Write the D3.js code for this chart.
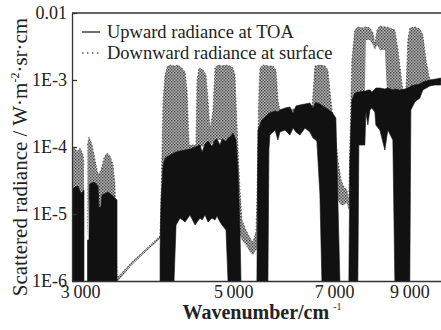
<!DOCTYPE html>
<html>
<head>
<meta charset="utf-8">
<script src="https://cdn.jsdelivr.net/npm/d3@7/dist/d3.min.js"></script>
<style>
  body { margin: 0; background: #fff; }
  svg { display: block; }
  text { font-family: "Liberation Serif", "Times New Roman", serif; fill: #222; }
</style>
</head>
<body>
<svg id="chart" width="441" height="330"></svg>
<script>
// Axis ticks
const xTicks = [3000, 5000, 7000, 9000];
const yTicks = [1e-6, 1e-5, 1e-4, 1e-3, 1e-2];
const yTickLabels = ["1E-6", "1E-5", "1E-4", "1E-3", "0.01"];
const seriesNames = ["Upward radiance at TOA", "Downward radiance at surface"];

// Upward scattered radiance at TOA: band envelopes (max / min of the dense spectrum), null = no signal
const toaNu = [
  2920, 2949, 2979, 3010, 3039, 3050,
  3075, 3090, 3095, 3142, 3185, 3195, 3217, 3227, 3293, 3348, 3393, 3400,
  3917, 3930, 3957, 3983, 4050, 4104, 4132, 4187, 4258, 4329, 4402, 4476, 4506, 4551, 4597, 4658,
  4705, 4736, 4784, 4816, 4881, 4914, 4946, 4996, 5046, 5080, 5114, 5131, 5140,
  5411, 5430, 5502, 5578, 5614, 5632, 5651, 5748, 5804, 5843, 5943, 6041, 6103, 6165, 6245, 6353,
  6457, 6525, 6588, 6610, 6676, 6721, 6811, 6949, 7042, 7089, 7137, 7150,
  7354, 7378, 7428, 7502, 7578, 7603, 7757, 7783, 7835, 7887, 7940, 8020, 8047, 8155, 8292, 8375,
  8516, 8573, 8717, 8863, 9012, 9043, 9164, 9318, 9412, 9634, 9797, 9994
];
const toaMax = [
  2.28e-5, 2.53e-5, 2.62e-5, 2.0e-5, 2.28e-5, null,
  4.09e-6, 4.09e-6, 2.8e-5, 3.0e-5, 2.62e-5, 1.27e-5, 1.27e-5, 1.92e-5, 2.13e-5, 1.86e-5, 1.62e-5, null,
  2.9e-6, 1.62e-5, 5.39e-5, 6.85e-5, 7.6e-5, 8.14e-5, 8.42e-5, 8.7e-5, 9.0e-5, 9.33e-5, 1.0e-4, 1.07e-4, 8.42e-5, 1.11e-4, 1.23e-4, 1.03e-4,
  1.27e-4, 1.32e-4, 1.07e-4, 1.32e-4, 1.23e-4, 1.36e-4, 1.41e-4, 1.62e-4, 1.27e-4, 4.54e-5, 5.77e-6, 1e-6, null,
  1e-6, 1.79e-4, 2.53e-4, 2.9e-4, 3.11e-4, 3.22e-4, 3.22e-4, 3.45e-4, 3.33e-4, 3.57e-4, 3.82e-4, 3.95e-4, 3.22e-4, 4.1e-4, 4.24e-4, 4.38e-4,
  4.54e-4, 3.82e-4, 4.69e-4, 4.54e-4, 4.38e-4, 4.2e-4, 3.82e-4, 3.33e-4, 2.71e-4, 1.62e-5, 1e-6, null,
  1e-6, 6.4e-5, 5.03e-4, 6.4e-4, 6.62e-4, 6.62e-4, 6.85e-4, 6.85e-4, 7.09e-4, 7.09e-4, 6.62e-4, 7.34e-4, 7.6e-4, 7.6e-4, 7.34e-4, 7.6e-4,
  7.09e-4, 7.34e-4, 7.09e-4, 7.34e-4, 7.86e-4, 8.14e-4, 8.42e-4, 8.72e-4, 9.33e-4, 1.0e-3, 1.03e-3, 1.07e-3
];
const toaMin = [
  1e-6, 1e-6, 1e-6, 1e-6, 1e-6, null,
  1e-6, 1e-6, 1e-6, 1e-6, 1e-6, 1e-6, 1e-6, 1e-6, 1e-6, 1e-6, 1e-6, null,
  1e-6, 1e-6, 1e-6, 1e-6, 1e-6, 1e-6, 6.85e-6, 8.71e-6, 7.6e-6, 9.66e-6, 6.85e-6, 8.71e-6, 8.13e-6, 9.66e-6, 7.6e-6, 8.71e-6,
  8.13e-6, 9.33e-6, 7.6e-6, 6.85e-6, 5.77e-6, 1e-6, 1e-6, 1e-6, 1e-6, 1e-6, 1e-6, 1e-6, null,
  1e-6, 1e-6, 1e-6, 1e-6, 1e-6, 9.02e-5, 1.51e-4, 1.79e-4, 1.27e-4, 1.67e-4, 1.79e-4, 1.51e-4, 1.92e-4, 1.67e-4, 1.51e-4, 1.92e-4,
  1.67e-4, 1.36e-4, 1.27e-4, 1.2e-4, 2.0e-5, 1e-6, 1e-6, 1e-6, 1e-6, 1e-6, 1e-6, null,
  1e-6, 1e-6, 1e-6, 1e-6, 1e-6, 1.07e-4, 1.07e-4, 3.33e-4, 2.13e-4, 3.57e-4, 3.82e-4, 3.33e-4, 2.13e-4, 1.79e-4, 9.02e-5, 1.79e-4,
  1.27e-4, 1e-6, 1e-6, 1e-6, 1e-6, 3.57e-4, 4.69e-4, 5.39e-4, 7.09e-4, 8.14e-4, 8.42e-4, 8.42e-4
];

// Downward scattered radiance at surface: band envelopes
const sfcNu = [
  2920, 2940, 2969, 2999, 3029, 3039, 3045,
  3075, 3090, 3122, 3153, 3185, 3217, 3249, 3282, 3315, 3348, 3370,
  3393, 3404, 3567, 3751, 3917,
  3930, 3943, 3957, 3983, 4010, 4050, 4104, 4159, 4215, 4258, 4286, 4315, 4416, 4431, 4461, 4520, 4566,
  4597, 4627, 4674, 4705, 4752, 4816, 4881, 4946, 4996, 5029, 5046, 5080, 5114, 5148, 5217, 5287, 5340,
  5394, 5411, 5430, 5448, 5467, 5522, 5614, 5709, 5767, 5804, 5843, 6503, 6546, 6566, 6676, 6791, 6856,
  6902, 6975, 7042, 7089, 7163, 7232, 7305, 7354, 7378, 7428, 7502, 7578, 7709, 7757, 7783, 7887, 7970,
  8020, 8077, 8155, 8292, 8351, 8435, 8573, 8664, 8751, 8839, 8898, 8953, 9012, 9164, 9318, 9412, 9512,
  9634, 9994
];
const sfcMax = [
  9.02e-5, 1.0e-4, 8.42e-5, 9.66e-5, 7.6e-5, 5.39e-5, null,
  1.07e-4, 1.41e-4, 1.07e-4, 6.4e-5, 3.82e-5, 4.54e-5, 6.85e-5, 8.14e-5, 7.34e-5, 5.39e-5, 2.71e-5,
  1.2e-6, 1.15e-6, 1.92e-6, 3.11e-6, 4.7e-6,
  1.62e-5, 9.02e-5, 5.03e-4, 1.19e-3, 1.56e-3, 1.67e-3, 1.62e-3, 1.67e-3, 1.51e-3, 1.32e-3, 7.09e-4, 1.07e-4, 1.07e-4, 1.0e-3, 1.51e-3, 1.41e-3, 1.19e-3,
  5.03e-4, 1.79e-4, 3.57e-4, 1.51e-3, 1.67e-3, 1.62e-3, 1.67e-3, 1.62e-3, 1.51e-3, 1.19e-3, 5.03e-4, 9.02e-5, 2.28e-5, 8.13e-6, 5.77e-6, 4.39e-6, 3.82e-6,
  5.39e-6, 1.62e-5, 1.27e-4, 7.09e-4, 1.51e-3, 1.67e-3, 1.62e-3, 1.62e-3, 1.41e-3, 5.03e-4, 3.57e-4, 3.8e-4, 1.0e-3, 1.62e-3, 1.67e-3, 1.62e-3, 1.41e-3,
  7.09e-4, 2.53e-4, 1.27e-4, 6.4e-5, 3.22e-5, 2.53e-5, 2.28e-5, 1.62e-5, 9.02e-5, 1.99e-3, 5.57e-3, 6.18e-3, 5.97e-3, 6.18e-3, 6.18e-3, 5.97e-3, 5.03e-3,
  3.33e-3, 5.57e-3, 6.4e-3, 6.18e-3, 6.18e-3, 5.97e-3, 5.57e-3, 2.8e-3, 1.19e-3, 5.03e-4, 7.09e-4, 3.95e-3, 5.97e-3, 6.18e-3, 5.77e-3, 4.69e-3, 1.99e-3,
  1.0e-3, 1.0e-3
];
const sfcMin = [
  1.62e-5, 1.62e-5, 1.62e-5, 1.62e-5, 1.62e-5, 1.62e-5, null,
  4.09e-6, 1.62e-5, 1.62e-5, 1.62e-5, 1.62e-5, 8.13e-6, 1.62e-5, 1.62e-5, 1.62e-5, 1.62e-5, 1.62e-5,
  1.0e-6, 1.0e-6, 1.75e-6, 2.85e-6, 4.3e-6,
  4.09e-6, 1.62e-5, 5.39e-5, 6.4e-5, 6.4e-5, 7.0e-5, 7.6e-5, 8.0e-5, 8.4e-5, 8.4e-5, 8.7e-5, 9.0e-5, 9.66e-5, 9.66e-5, 9.66e-5, 1.03e-4, 1.03e-4,
  1.03e-4, 1.07e-4, 1.15e-4, 1.15e-4, 1.27e-4, 1.27e-4, 1.27e-4, 1.36e-4, 1.46e-4, 1.27e-4, 9.02e-5, 1.62e-5, 4.86e-6, 4.09e-6, 3.44e-6, 2.71e-6, 2.44e-6,
  2.9e-6, 2.9e-6, 1.62e-5, 3.22e-5, 9.02e-5, 1.79e-4, 2.53e-4, 3.0e-4, 3.22e-4, 3.33e-4, 3.33e-4, 3.6e-4, 3.57e-4, 3.57e-4, 3.0e-4, 2.13e-4, 1.27e-4,
  6.4e-5, 2.71e-5, 1.92e-5, 1.62e-5, 1.36e-5, 1.36e-5, 1.46e-5, 1.15e-5, 1.62e-5, 9.02e-5, 5.03e-4, 5.97e-4, 6.4e-4, 6.85e-4, 3.95e-3, 3.95e-3, 3.33e-3,
  2.8e-3, 3.33e-3, 2.8e-3, 2.8e-3, 6.62e-4, 6.62e-4, 5.03e-4, 4.24e-4, 3.82e-4, 3.57e-4, 3.57e-4, 4.24e-4, 5.03e-4, 5.97e-4, 7.09e-4, 8.42e-4, 9.33e-4,
  9.5e-4, 9.5e-4
];

const svg = d3.select("#chart");
const margin = { left: 72, top: 13, right: 441, bottom: 281 };

const x = d3.scaleLog().domain([2920, 10000]).range([margin.left, margin.right]);
const y = d3.scaleLog().domain([1e-6, 1e-2]).range([margin.bottom, margin.top]);

const defs = svg.append("defs");
defs.append("clipPath").attr("id", "plotClip")
  .append("rect")
  .attr("x", margin.left).attr("y", margin.top)
  .attr("width", margin.right - margin.left).attr("height", margin.bottom - margin.top);

// stippled fill for the dotted surface spectrum
const pat = defs.append("pattern").attr("id", "stipple")
  .attr("patternUnits", "userSpaceOnUse").attr("width", 3).attr("height", 3);
pat.append("rect").attr("width", 3).attr("height", 3).attr("fill", "#bababa");
pat.append("rect").attr("x", 0).attr("y", 0).attr("width", 1.4).attr("height", 1.4).attr("fill", "#3c3c3c");
pat.append("rect").attr("x", 1.5).attr("y", 1.5).attr("width", 1.4).attr("height", 1.4).attr("fill", "#474747");

const rows = (nu, hi, lo) => nu.map((n, i) => ({ nu: n, hi: hi[i], lo: lo[i] }));
const toa = rows(toaNu, toaMax, toaMin);
const sfc = rows(sfcNu, sfcMax, sfcMin);

const band = d3.area()
  .defined(d => d.hi != null)
  .x(d => x(d.nu))
  .y0(d => y(d.lo))
  .y1(d => y(d.hi));

const topEdge = d3.line()
  .defined(d => d.hi != null)
  .x(d => x(d.nu))
  .y(d => y(d.hi));

const plot = svg.append("g").attr("clip-path", "url(#plotClip)");

// downward radiance at surface (dotted, grey)
plot.append("path").datum(sfc)
  .attr("d", band)
  .attr("fill", "url(#stipple)");
plot.append("path").datum(sfc)
  .attr("d", topEdge)
  .attr("fill", "none")
  .attr("stroke", "#555")
  .attr("stroke-width", 1)
  .attr("stroke-dasharray", "1.4,2");

// upward radiance at TOA (solid, black)
plot.append("path").datum(toa)
  .attr("d", band)
  .attr("fill", "#111")
  .attr("stroke", "#111")
  .attr("stroke-width", 0.6);

// axes
const yAxis = d3.axisLeft(y)
  .tickValues(yTicks)
  .tickFormat((d, i) => yTickLabels[i])
  .tickSizeInner(-5)
  .tickSizeOuter(0)
  .tickPadding(5);
const gy = svg.append("g").attr("transform", `translate(${margin.left},0)`).call(yAxis);
gy.selectAll("text").attr("font-size", 18).attr("dy", "0.3em")
  .style("font-family", '"Liberation Serif", serif').attr("fill", "#222");

const xAxis = d3.axisBottom(x)
  .tickValues(xTicks)
  .tickFormat(d => d3.format(",")(d).replace(",", "\u2009"))
  .tickSize(0)
  .tickPadding(4);
const gx = svg.append("g").attr("transform", `translate(0,${margin.bottom})`).call(xAxis);
gx.selectAll("text").attr("font-size", 18)
  .style("font-family", '"Liberation Serif", serif').attr("fill", "#222");

svg.selectAll(".domain, .tick line").attr("stroke", "#333").attr("stroke-width", 1.3);

// top frame line
svg.append("line")
  .attr("x1", margin.left).attr("x2", margin.right)
  .attr("y1", margin.top).attr("y2", margin.top)
  .attr("stroke", "#333").attr("stroke-width", 1.3);

// legend
const legend = svg.append("g");
legend.append("line").attr("x1", 82).attr("x2", 100).attr("y1", 32).attr("y2", 32)
  .attr("stroke", "#222").attr("stroke-width", 1.3);
legend.append("text").attr("x", 107).attr("y", 38).attr("font-size", 18.5).text(seriesNames[0]);
legend.append("line").attr("x1", 82).attr("x2", 100).attr("y1", 53).attr("y2", 53)
  .attr("stroke", "#555").attr("stroke-width", 1.4).attr("stroke-dasharray", "1.5,3.5");
legend.append("text").attr("x", 107).attr("y", 59).attr("font-size", 18.5).text(seriesNames[1]);

// axis titles
const xt = svg.append("text")
  .attr("x", 262).attr("y", 319)
  .attr("text-anchor", "middle")
  .attr("font-size", 20).attr("font-weight", "bold");
xt.append("tspan").text("Wavenumber/cm");
xt.append("tspan").attr("dx", 4).attr("dy", -9).attr("font-size", 10).attr("font-weight", "normal").text("-1");

const yt = svg.append("text")
  .attr("transform", "translate(27,157) rotate(-90)")
  .attr("text-anchor", "middle")
  .attr("font-size", 21);
yt.append("tspan").text("Scattered  radiance / W·m");
yt.append("tspan").attr("dy", -8).attr("font-size", 12).text("-2");
yt.append("tspan").attr("dy", 8).text("·sr·cm");
</script>
</body>
</html>
